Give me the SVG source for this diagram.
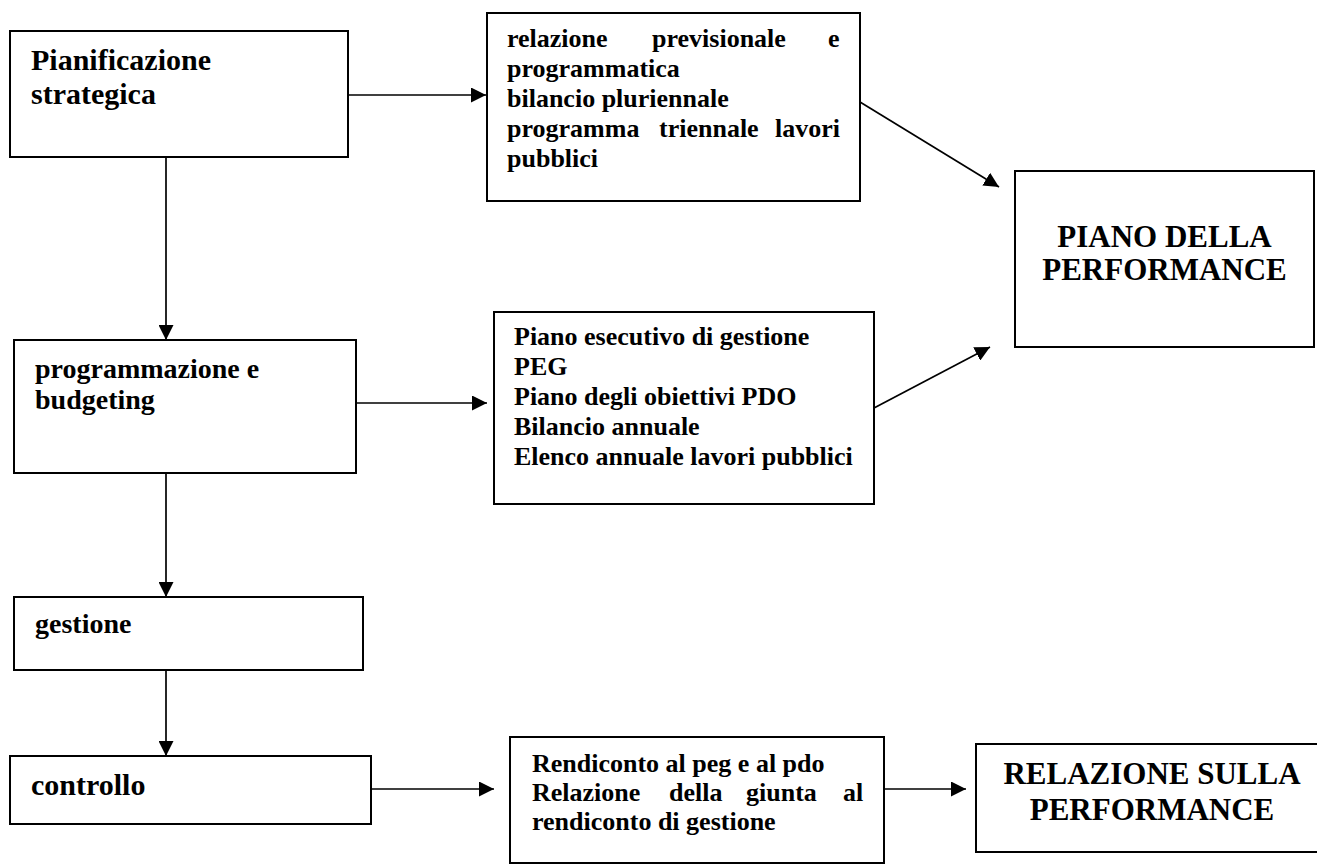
<svg xmlns="http://www.w3.org/2000/svg" width="1317" height="866" viewBox="0 0 1317 866">
<style>
  .box { fill: #ffffff; stroke: #000000; stroke-width: 2; }
  .t { font-family: "Liberation Serif", "Times New Roman", serif; font-weight: bold; fill: #000000; }
  .s26 { font-size: 26px; }
  .s28 { font-size: 28px; }
  .s30 { font-size: 30px; }
  .s31 { font-size: 31px; }
  .mid { text-anchor: middle; }
  .conn { stroke: #000000; stroke-width: 1.7; fill: none; marker-end: url(#arrow); }
</style>
<defs>
  <marker id="arrow" markerUnits="userSpaceOnUse" markerWidth="15" markerHeight="15" refX="15" refY="7.5" orient="auto">
    <path d="M0,0 L15,7.5 L0,15 Z" fill="#000000"/>
  </marker>
</defs>
<rect width="1317" height="866" fill="#ffffff"/>

<g id="connectors">
  <line class="conn" x1="348" y1="95" x2="486" y2="95"/>
  <line class="conn" x1="166" y1="157" x2="166" y2="340"/>
  <line class="conn" x1="860" y1="102" x2="999" y2="187"/>
  <line class="conn" x1="874" y1="408" x2="990" y2="347"/>
  <line class="conn" x1="356" y1="403" x2="487" y2="403"/>
  <line class="conn" x1="166" y1="473" x2="166" y2="597"/>
  <line class="conn" x1="166" y1="670" x2="166" y2="756"/>
  <line class="conn" x1="371" y1="789" x2="494" y2="789"/>
  <line class="conn" x1="884" y1="789" x2="966" y2="789"/>
</g>

<g id="pianificazione">
  <rect class="box" x="10" y="31" width="338" height="126"/>
  <text class="t s30" x="31" y="70">Pianificazione</text>
  <text class="t s30" x="31" y="104">strategica</text>
</g>

<g id="relazione-previsionale">
  <rect class="box" x="487" y="13" width="373" height="188"/>
  <text class="t s26" y="47"><tspan x="507">relazione</tspan><tspan x="652">previsionale</tspan><tspan x="828">e</tspan></text>
  <text class="t s26" x="507" y="77">programmatica</text>
  <text class="t s26" x="507" y="107">bilancio pluriennale</text>
  <text class="t s26" y="137"><tspan x="507">programma</tspan><tspan x="659">triennale</tspan><tspan x="775">lavori</tspan></text>
  <text class="t s26" x="507" y="167">pubblici</text>
</g>

<g id="piano-performance">
  <rect class="box" x="1015" y="171" width="299" height="176"/>
  <text class="t s31 mid" x="1164.5" y="247">PIANO DELLA</text>
  <text class="t s31 mid" x="1164.5" y="280">PERFORMANCE</text>
</g>

<g id="programmazione">
  <rect class="box" x="14" y="340" width="342" height="133"/>
  <text class="t s28" x="35" y="378">programmazione e</text>
  <text class="t s28" x="35" y="409">budgeting</text>
</g>

<g id="peg">
  <rect class="box" x="494" y="312" width="380" height="192"/>
  <text class="t s26" x="514" y="345">Piano esecutivo di gestione</text>
  <text class="t s26" x="514" y="375">PEG</text>
  <text class="t s26" x="514" y="405">Piano degli obiettivi PDO</text>
  <text class="t s26" x="514" y="435">Bilancio annuale</text>
  <text class="t s26" x="514" y="465">Elenco annuale lavori pubblici</text>
</g>

<g id="gestione">
  <rect class="box" x="14" y="597" width="349" height="73"/>
  <text class="t s28" x="35" y="633">gestione</text>
</g>

<g id="controllo">
  <rect class="box" x="10" y="756" width="361" height="68"/>
  <text class="t s30" x="31" y="795">controllo</text>
</g>

<g id="rendiconto">
  <rect class="box" x="510" y="737" width="374" height="126"/>
  <text class="t s26" x="532" y="772">Rendiconto al peg e al pdo</text>
  <text class="t s26" y="801"><tspan x="532">Relazione</tspan><tspan x="669">della</tspan><tspan x="746">giunta</tspan><tspan x="843">al</tspan></text>
  <text class="t s26" x="532" y="830">rendiconto di gestione</text>
</g>

<g id="relazione-performance">
  <rect class="box" x="976" y="744" width="354" height="108"/>
  <text class="t s31 mid" x="1152" y="784">RELAZIONE SULLA</text>
  <text class="t s31 mid" x="1152" y="820">PERFORMANCE</text>
</g>
</svg>
